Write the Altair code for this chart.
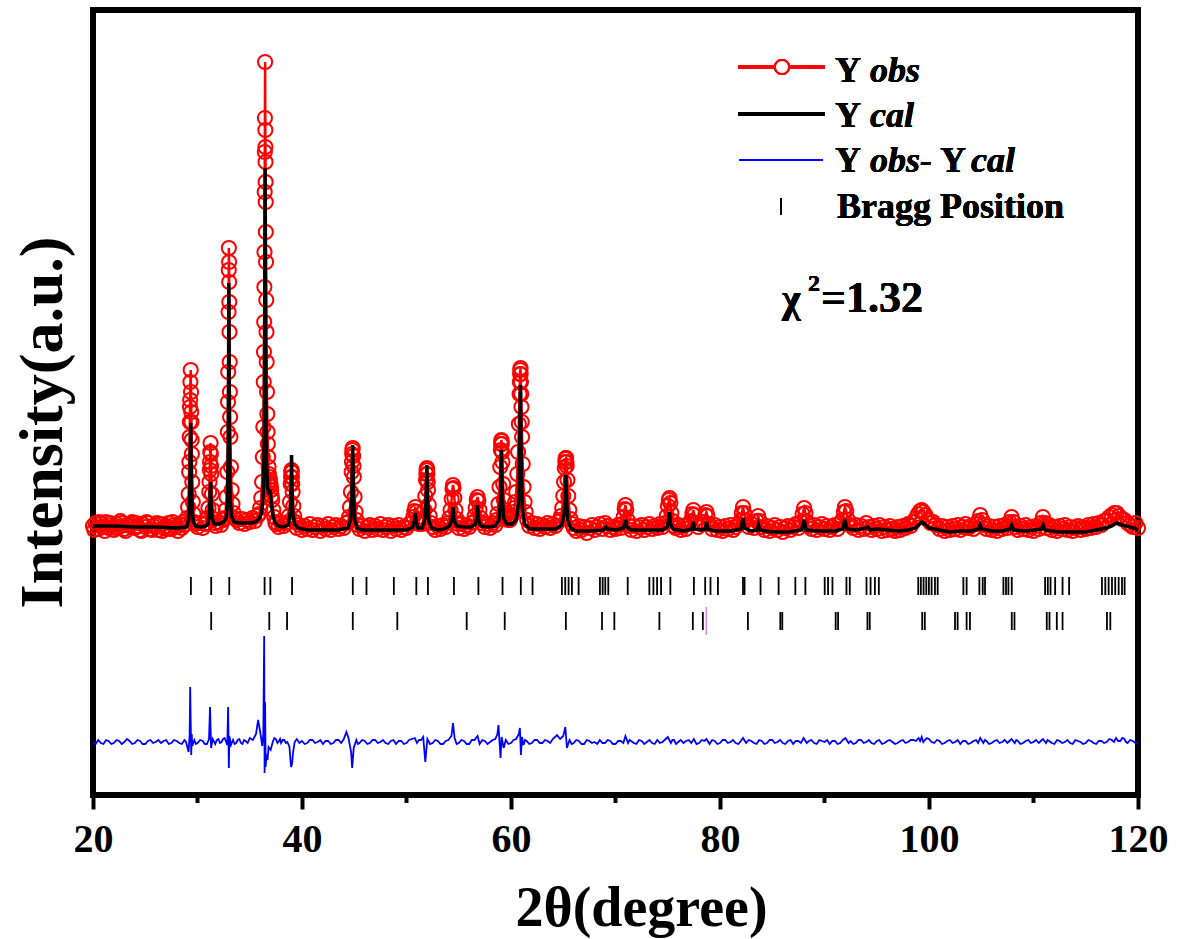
import altair as alt
import pandas as pd

# ---------------- data ----------------
# observed pattern: (2theta, intensity)
obs = [
(20.00,6),(20.25,9),(20.50,3),(20.75,8),(21.00,5),(21.25,10),(21.50,4),(21.75,7),(22.00,2),(22.25,8),(22.50,5),(22.75,9),
(23.00,3),(23.25,7),(23.50,6),(23.75,10),(24.00,4),(24.25,6),(24.50,2),(24.75,8),(25.00,5),(25.25,9),(25.50,3),(25.75,6),
(26.00,7),(26.25,2),(26.50,8),(26.75,4),(27.00,6),(27.25,9),(27.50,3),(27.75,7),(28.00,5),(28.25,8),(28.50,4),(28.75,7),
(28.90,8),(29.00,14),(29.10,25),(29.15,38),(29.20,60),(29.25,95),(29.28,125),(29.32,150),(29.35,162),(29.38,140),(29.42,110),
(29.46,78),(29.50,50),(29.55,30),(29.62,18),(29.70,10),(29.80,8),
(30.00,5),(30.25,9),(30.50,4),(30.75,8),
(30.85,9),(30.95,14),(31.05,24),(31.12,40),(31.18,62),(31.22,80),(31.25,89),(31.28,78),(31.32,58),(31.38,38),(31.45,22),
(31.55,13),(31.65,9),
(31.75,6),(32.00,10),(32.25,7),(32.50,12),
(32.60,14),(32.70,22),(32.78,35),(32.85,60),(32.90,100),(32.94,160),(32.97,220),(33.00,284),(33.03,250),(33.06,200),
(33.10,140),(33.15,95),(33.20,65),(33.27,42),(33.35,28),(33.45,19),(33.55,14),
(33.75,12),(34.00,9),(34.25,13),(34.50,8),(34.75,12),(35.00,10),(35.25,14),(35.50,11),(35.75,16),
(35.90,18),(36.00,24),(36.10,34),(36.18,50),(36.25,75),(36.30,105),(36.34,150),(36.38,210),(36.41,280),(36.43,340),
(36.45,414),(36.47,470),(36.49,402),(36.51,370),(36.53,330),(36.56,270),(36.60,200),(36.65,140),(36.70,100),(36.76,75),
(36.83,58),(36.90,50),(36.97,48),(37.05,42),(37.15,32),(37.25,22),(37.35,15),(37.45,10),
(37.50,8),(37.75,5),(38.00,9),(38.25,6),(38.50,9),
(38.65,10),(38.75,16),(38.85,30),(38.92,48),(38.97,60),(39.00,62),(39.04,55),(39.10,40),(39.17,26),(39.25,16),(39.35,10),
(39.50,4),(39.75,7),(40.00,2),(40.25,6),(40.50,3),(40.75,8),(41.00,2),(41.25,5),(41.50,7),(41.75,1),(42.00,6),(42.25,3),
(42.50,8),(42.75,2),(43.00,5),(43.25,7),(43.50,3),(43.75,6),(44.00,4),(44.25,9),
(44.40,10),(44.50,15),(44.60,25),(44.68,40),(44.75,60),(44.80,78),(44.85,84),(44.90,76),(44.96,55),(45.03,35),(45.12,20),
(45.22,12),(45.32,7),
(45.50,3),(45.75,6),(46.00,1),(46.25,5),(46.50,7),(46.75,2),(47.00,6),(47.25,3),(47.50,8),(47.75,2),(48.00,5),(48.25,7),
(48.50,1),(48.75,6),(49.00,3),(49.25,7),(49.50,2),(49.75,5),(50.00,4),(50.25,8),
(50.50,9),(50.65,15),(50.75,21),(50.85,25),(50.95,20),(51.05,12),(51.20,8),
(51.50,8),(51.62,13),(51.72,22),(51.80,36),(51.87,52),(51.92,62),(51.96,64),(52.00,58),(52.06,42),(52.13,27),(52.22,16),
(52.33,9),
(52.50,5),(52.75,2),(53.00,6),(53.25,3),(53.50,7),(53.75,5),
(53.95,9),(54.10,14),(54.22,22),(54.32,33),(54.40,43),(54.45,47),(54.50,44),(54.58,34),(54.68,22),(54.80,13),(54.92,8),
(55.00,4),(55.25,8),(55.50,3),(55.75,7),(56.00,5),(56.25,9),
(56.40,10),(56.52,16),(56.62,24),(56.72,32),(56.80,35),(56.88,31),(56.98,22),(57.10,14),(57.22,9),
(57.50,5),(57.75,8),(58.00,4),(58.25,9),(58.50,7),
(58.60,12),(58.70,18),(58.80,28),(58.90,45),(58.97,65),(59.03,82),(59.08,92),(59.12,88),(59.18,70),(59.25,48),(59.32,32),
(59.40,22),(59.50,16),(59.60,13),(59.70,12),(59.80,14),
(59.90,12),(60.00,15),(60.10,17),(60.20,20),(60.30,24),(60.40,30),(60.50,40),(60.60,58),(60.68,80),(60.75,108),(60.82,138),
(60.87,158),(60.91,164),(60.95,150),(61.00,125),(61.06,95),(61.12,68),(61.20,45),(61.30,30),(61.40,20),(61.55,12),
(61.75,6),(62.00,9),(62.25,4),(62.50,8),(62.75,3),(63.00,7),(63.25,5),(63.50,9),(63.75,4),(64.00,8),(64.25,6),(64.50,10),
(64.65,12),(64.78,16),(64.90,24),(65.00,36),(65.08,50),(65.15,64),(65.22,73),(65.27,74),(65.33,66),(65.40,52),(65.48,36),
(65.58,22),(65.70,13),(65.85,8),
(66.00,4),(66.25,1),(66.50,6),(66.75,2),(67.00,5),(67.25,-1),(67.50,4),(67.75,7),(68.00,2),(68.25,5),(68.50,8),(68.75,3),
(69.00,9),(69.25,6),(69.50,2),(69.75,5),(70.00,3),(70.25,7),(70.50,4),
(70.65,8),(70.78,15),(70.88,23),(70.95,27),(71.03,22),(71.15,12),(71.30,6),
(71.50,2),(71.75,6),(72.00,1),(72.25,5),(72.50,7),(72.75,2),(73.00,5),(73.25,8),(73.50,3),(73.75,6),(74.00,4),(74.25,8),
(74.50,5),
(74.75,9),(74.90,16),(75.02,26),(75.10,32),(75.17,34),(75.25,29),(75.35,19),(75.48,11),(75.62,6),
(75.75,4),(76.00,7),(76.25,2),(76.50,6),(76.75,3),(77.00,8),
(77.20,11),(77.35,18),(77.45,22),(77.55,17),(77.70,9),
(77.90,5),(78.15,8),
(78.45,10),(78.60,17),(78.70,20),(78.80,16),(78.95,8),
(79.25,3),(79.50,7),(79.75,2),(80.00,5),(80.25,1),(80.50,6),(80.75,3),(81.00,7),(81.25,2),(81.50,5),(81.75,8),
(81.95,11),(82.08,19),(82.20,25),(82.32,19),(82.45,11),
(82.75,5),(83.00,8),(83.25,4),
(83.50,11),(83.65,16),(83.80,11),
(84.00,5),(84.25,2),(84.50,6),(84.75,1),(85.00,4),(85.25,7),(85.50,2),(85.75,5),(86.00,0),(86.25,4),(86.50,6),(86.75,2),
(87.00,5),(87.25,8),(87.50,4),
(87.75,10),(87.90,18),(88.05,24),(88.18,19),(88.35,10),
(88.50,6),(88.75,3),(89.00,7),(89.25,2),(89.50,5),(89.75,8),(90.00,3),(90.25,6),(90.50,2),(90.75,5),(91.00,7),(91.25,3),
(91.50,9),
(91.70,12),(91.85,20),(91.95,25),(92.08,21),(92.25,12),(92.45,7),
(92.75,4),(93.00,7),(93.25,2),(93.50,6),(93.75,3),(94.00,9),(94.25,5),(94.50,2),(94.75,6),(95.00,3),(95.25,7),(95.50,1),
(95.75,5),(96.00,2),(96.25,6),(96.50,3),(96.75,1),(97.00,5),(97.25,2),(97.50,6),(97.75,4),(98.00,8),(98.25,6),
(98.50,10),(98.75,14),(98.95,18),(99.15,21),(99.30,22),(99.45,20),(99.65,17),(99.90,12),(100.15,9),(100.40,10),(100.65,7),
(101.00,3),(101.25,6),(101.50,1),(101.75,5),(102.00,2),(102.25,6),(102.50,3),(102.75,7),(103.00,2),(103.25,5),(103.50,8),
(103.75,4),(104.00,6),(104.25,3),(104.50,8),
(104.70,11),(104.90,17),(105.10,12),
(105.25,7),(105.50,3),(105.75,6),(106.00,2),(106.25,5),(106.50,1),(106.75,6),(107.00,3),(107.25,7),(107.50,4),
(107.70,10),(107.90,15),(108.10,10),
(108.25,5),(108.50,2),(108.75,6),(109.00,3),(109.25,7),(109.50,2),(109.75,5),(110.00,1),(110.25,6),(110.50,3),
(110.70,9),(110.90,15),(111.10,9),
(111.25,4),(111.50,7),(111.75,2),(112.00,5),(112.25,1),(112.50,6),(112.75,3),(113.00,7),(113.25,2),(113.50,5),(113.75,1),
(114.00,4),(114.25,6),(114.50,2),(114.75,5),(115.00,3),(115.25,7),(115.50,4),(115.75,8),(116.00,5),(116.25,9),(116.50,7),
(116.75,11),
(117.00,12),(117.25,15),(117.50,17),(117.75,19),(117.95,19),(118.20,16),(118.45,13),(118.70,12),(119.00,9),
(119.25,7),(119.50,5),(119.75,9),(120.00,4),
]
# extra observed points read inside the dense band and the large peak columns
obs_extra = [
(20.12,2),(20.62,10),(21.12,1),(21.62,9),(22.12,4),(22.62,11),(23.12,1),(23.62,8),(24.12,9),(24.62,1),(25.12,10),(25.62,2),
(26.12,9),(26.62,1),(27.12,3),(27.62,10),(28.12,1),(28.62,10),
(29.22,70),(29.30,132),(29.40,120),(29.44,92),(29.27,110),
(31.20,70),(31.30,66),(31.15,50),
(32.92,130),(32.99,262),(33.02,270),(33.08,170),(33.12,115),(33.04,230),
(36.36,180),(36.40,245),(36.44,380),(36.50,385),(36.52,350),(36.54,300),(36.58,232),(36.62,170),(36.68,118),(36.73,88),
(36.80,65),(36.87,55),(36.94,52),(37.00,46),(37.10,36),
(38.95,55),(39.02,60),(39.07,48),
(44.78,70),(44.82,82),(44.93,66),
(51.90,58),(51.98,62),(52.03,50),
(59.05,88),(59.10,91),(59.15,80),
(60.85,150),(60.89,162),(60.93,158),(60.98,138),(61.03,110),
(65.20,70),(65.25,74),(65.30,70),
]

# calculated pattern: (2theta, intensity)
calc = [
(20.0,6),(22.0,6),(24.0,5),(26.0,5),(28.0,4),(28.9,5),
(29.00,6),(29.15,12),(29.25,30),(29.30,65),(29.35,109),(29.40,60),(29.47,25),(29.60,10),(29.80,6),
(30.30,5),(30.80,6),
(31.00,8),(31.15,18),(31.20,32),(31.25,50),(31.30,30),(31.40,14),(31.60,8),
(32.00,8),(32.50,10),(32.75,14),
(32.88,30),(32.95,90),(33.00,249),(33.05,95),(33.12,35),(33.25,16),(33.50,10),
(34.00,9),(34.50,9),(35.00,9),(35.50,10),(35.90,13),(36.15,20),(36.30,40),(36.40,100),
(36.47,364),(36.53,150),(36.60,70),(36.70,45),(36.85,38),(36.95,42),(37.05,30),(37.20,17),(37.40,10),(37.70,6),
(38.20,5),(38.70,7),(38.88,20),(38.95,40),
(39.00,77),(39.05,40),(39.12,18),(39.30,8),(39.60,4),
(40.5,2),(42.0,2),(43.5,2),(44.4,4),(44.65,12),(44.77,35),
(44.85,87),(44.93,35),(45.05,12),(45.30,4),(45.70,2),
(47.0,2),(48.5,2),(50.0,2),(50.6,5),(50.78,12),
(50.85,19),(50.92,10),(51.10,4),(51.50,4),(51.75,12),(51.87,30),
(51.95,67),(52.02,30),(52.12,12),(52.40,4),
(53.00,2),(53.60,3),(54.10,6),(54.35,12),
(54.45,25),(54.55,12),(54.80,6),(55.50,5),(56.20,5),(56.60,8),(56.72,14),
(56.80,27),(56.88,13),(57.10,6),(57.80,5),(58.50,6),(58.85,12),(59.00,30),
(59.08,82),(59.16,35),(59.30,14),(59.60,8),(60.10,8),(60.50,12),(60.72,30),(60.82,70),
(60.90,147),(60.98,70),(61.08,25),(61.30,8),(61.80,3),
(63.0,3),(64.3,3),(64.85,7),(65.08,18),(65.18,32),
(65.25,57),(65.33,28),(65.45,12),(65.70,4),(66.20,1),
(67.5,1),(68.8,2),(69.10,5),(69.25,3),(70.00,2),(70.75,4),(70.90,9),
(70.98,12),(71.08,5),(71.50,2),
(72.5,2),(73.5,2),(74.5,2),(74.95,5),(75.08,12),
(75.17,20),(75.26,8),(75.50,3),(76.5,1),(77.30,3),(77.45,10),(77.58,3),(78.20,2),(78.60,3),(78.72,10),(78.85,3),(79.5,1),
(81.0,1),(82.00,3),(82.20,14),(82.35,4),(83.00,1),(83.55,2),(83.68,7),(83.80,2),
(85.0,0),(86.5,0),(87.8,2),(88.05,12),(88.25,2),(89.5,1),(91.0,1),(91.75,3),(91.95,12),(92.15,3),
(93.0,2),(94.00,4),(94.15,5),(94.4,2),(95.0,3),(96.0,2),(97.0,1),(98.0,2),(98.7,4),(99.0,7),(99.3,10),(99.6,8),(100.0,4),
(100.5,3),(101.0,2),
(102.0,0),(103.0,1),(104.0,1),(104.75,3),(104.90,7),(105.05,3),(106.0,1),(107.0,1),(107.75,3),(107.92,7),(108.10,2),
(109.5,1),(110.75,3),(110.92,7),(111.10,2),(112.5,0),(114.0,0),(115.0,0),(116.0,2),(117.0,4),(117.5,6),(117.95,9),
(118.5,7),(119.2,5),(119.6,4),(120.0,2),
]

# difference Yobs - Ycal: (2theta, value)
diff = [
(20.0,0),(20.25,-2),(20.5,2),(20.75,-1),(21.0,-2),(21.25,2),(21.5,1),(21.75,-2),(22.0,-1),(22.25,2),(22.5,1),(22.75,-2),
(23.0,0),(23.25,3),(23.5,1),(23.75,-2),(24.0,-1),(24.25,2),(24.5,1),(24.75,-2),(25.0,-2),(25.25,1),(25.5,2),(25.75,-1),
(26.0,0),(26.25,2),(26.5,-1),(26.75,1),(27.0,2),(27.25,-2),(27.5,-1),(27.75,2),(28.0,1),(28.25,-1),(28.5,-2),(28.75,2),
(28.9,0),(29.15,-10),(29.25,8),(29.3,55),(29.35,20),(29.4,-13),(29.45,8),
(29.5,-4),(29.7,2),(29.85,-2),(30.0,-1),(30.25,2),(30.5,1),(30.7,-2),(30.9,-2),(31.1,3),(31.2,35),(31.3,-6),(31.45,3),
(31.7,-2),(31.85,2),(32.0,3),(32.15,-1),(32.3,0),(32.45,3),
(32.6,4),(32.85,-3),(32.93,35),(33.0,-26),(33.05,6),(33.2,-3),(33.4,2),(33.55,-2),(33.7,-1),(33.85,2),(34.0,3),(34.15,-1),
(34.3,-2),(34.45,2),(34.6,1),(34.8,-1),(35.0,4),
(35.3,2),(35.6,8),(35.8,22),(36.0,10),(36.2,-4),(36.3,8),(36.38,106),(36.42,-31),(36.47,40),(36.52,-25),(36.6,-12),
(36.7,-18),(36.8,-5),(37.0,-8),(37.2,0),(37.35,4),(37.5,3),(37.65,-1),(37.8,1),(37.9,3),(38.0,-1),(38.15,2),(38.3,2),
(38.45,-1),(38.6,0),(38.8,-5),(38.95,-25),(39.05,-22),
(39.15,-10),(39.3,0),(39.5,3),(39.75,-1),(40.0,1),(40.25,-2),(40.5,-1),(40.75,2),(41.0,2),(41.25,-1),(41.5,0),(41.75,2),
(42.0,-2),(42.25,1),(42.5,1),(42.75,-2),(43.0,-1),(43.25,2),(43.5,2),(43.75,-1),(44.0,3),
(44.25,10),(44.45,4),(44.7,-10),(44.8,-26),(44.95,-6),(45.2,2),(45.35,-2),(45.5,-1),(45.75,2),(46.0,1),(46.25,-2),
(46.5,-1),(46.75,2),(47.0,2),(47.25,-1),(47.5,0),(47.75,2),(48.0,-1),(48.25,-2),
(48.5,1),(48.75,2),(49.0,-2),(49.25,1),(49.5,1),(49.75,-2),(50.0,-1),(50.25,2),(50.5,3),(50.8,4),(51.0,-1),(51.2,2),
(51.4,2),(51.6,5),(51.8,-20),(51.9,-8),(52.0,3),(52.25,-2),
(52.5,-1),(52.75,2),(53.0,1),(53.25,-2),(53.5,-2),(53.75,1),(54.0,2),(54.3,6),(54.45,19),(54.6,4),(54.8,-2),(55.0,-1),
(55.25,2),(55.5,1),(55.75,-2),(56.0,-2),(56.25,2),(56.5,2),(56.8,6),
(57.0,-2),(57.25,2),(57.5,1),(57.75,-2),(58.0,0),(58.25,2),(58.5,3),(58.7,8),(58.8,17),(58.95,-8),(59.0,-16),(59.1,5),
(59.3,-6),(59.5,2),(59.75,-2),(60.0,-1),(60.25,2),
(60.5,3),(60.75,8),(60.85,14),(60.95,-13),(61.05,5),(61.2,-3),(61.35,2),(61.5,1),(61.75,-2),(62.0,-1),(62.25,2),(62.5,2),
(62.75,-1),(63.0,-1),(63.25,2),(63.5,1),(63.75,-1),(64.0,3),
(64.4,7),(64.7,3),(65.0,6),(65.2,15),(65.35,-6),(65.6,2),(65.8,-2),(66.0,-1),(66.25,2),(66.5,1),(66.75,-2),(67.0,-2),
(67.25,2),(67.5,1),(67.75,-1),(68.0,0),(68.25,-2),(68.5,2),(68.75,-1),
(69.0,-1),(69.25,2),(69.5,1),(69.75,-2),(70.0,-2),(70.25,1),(70.5,1),(70.75,-1),(70.95,6),(71.2,-1),(71.35,2),(71.5,1),
(71.75,-1),(72.0,-2),(72.25,2),(72.5,1),(72.75,-2),(73.0,0),(73.25,2),(73.5,-1),(73.75,-2),(74.0,2),(74.25,-1),
(74.5,0),(75.0,5),(75.3,-1),(75.45,2),(75.6,2),(75.8,-2),(76.0,0),(76.25,2),(76.5,-1),(76.75,1),(77.0,2),(77.25,-1),
(77.5,3),(77.75,-2),(78.0,-1),(78.25,2),(78.5,1),(78.7,3),(79.0,-2),(79.25,2),
(79.5,1),(79.75,-2),(80.0,-1),(80.25,2),(80.5,2),(80.75,-1),(81.0,0),(81.25,2),(81.5,-1),(81.75,-2),(82.0,1),(82.2,4),
(82.5,-1),(82.75,2),(83.0,1),(83.25,-1),(83.5,-2),(83.75,2),(84.0,1),(84.25,-2),(84.5,-1),(84.75,2),
(85.0,2),(85.25,-1),(85.5,0),(85.75,2),(86.0,-1),(86.25,-2),(86.5,1),(86.75,2),(87.0,-2),(87.25,1),(87.5,1),(87.75,-1),
(88.0,4),(88.3,-1),(88.5,1),(88.75,2),(89.0,-1),(89.25,-2),(89.5,2),(89.75,1),(90.0,0),(90.25,2),
(90.5,-2),(90.75,1),(91.0,1),(91.25,-2),(91.5,-1),(91.75,2),(92.0,4),(92.3,-1),(92.5,1),(92.75,-2),(93.0,-1),(93.25,2),
(93.5,2),(93.75,-1),(94.0,0),(94.25,2),(94.5,-1),(94.75,-2),(95.0,1),(95.25,2),(95.5,-2),(95.75,-1),
(96.0,1),(96.25,2),(96.5,0),(96.75,-2),(97.0,-1),(97.25,1),(97.5,2),(97.75,-1),(98.0,0),(98.25,2),(98.5,2),(98.75,1),
(99.0,4),(99.15,1),(99.3,5),(99.45,0),(99.6,2),(99.8,4),(100.0,3),(100.25,0),(100.5,-1),(100.75,2),(101.0,1),
(101.25,-2),(101.5,-1),(101.75,1),(102.0,2),(102.25,-1),(102.5,0),(102.75,2),(103.0,-2),(103.25,1),(103.5,1),(103.75,-2),
(104.0,-1),(104.25,1),(104.5,2),(104.7,-1),(104.9,4),(105.2,-1),(105.35,2),(105.5,1),(105.75,-2),(106.0,-1),(106.25,1),
(106.5,2),(106.75,-1),(107.0,0),(107.25,2),(107.5,-1),(107.7,1),(107.9,3),(108.2,-1),(108.35,2),(108.5,1),(108.75,-2),
(109.0,-1),(109.25,1),(109.5,2),(109.75,-1),(110.0,0),(110.25,2),(110.5,-1),(110.7,1),(110.9,3),
(111.2,-1),(111.35,2),(111.5,1),(111.75,-1),(112.0,-2),(112.25,2),(112.5,1),(112.75,-1),(113.0,0),(113.25,2),(113.5,-1),
(113.75,-2),(114.0,2),(114.25,1),(114.5,0),(114.75,-2),(115.0,-1),(115.25,2),(115.5,1),(115.75,-1),(116.0,-2),(116.25,1),
(116.5,1),(116.75,-1),(117.0,0),(117.25,3),(117.5,2),(117.7,0),(117.9,4),(118.1,1),(118.3,1),(118.5,4),(118.7,3),
(118.85,0),(119.0,-1),(119.25,2),(119.5,1),(119.75,-1),(120.0,0),
]

# Bragg reflection positions (two phases)
bragg_phase1 = [
29.37,31.31,33.04,36.42,36.97,39.05,44.86,46.17,48.79,50.94,52.05,54.54,56.88,59.19,60.94,62.06,64.87,65.19,65.51,
65.83,66.47,68.51,68.77,69.02,69.31,71.17,73.24,73.63,73.98,74.36,75.25,77.5,78.58,79.09,79.8,82.2,82.35,83.88,85.61,
87.21,88.17,90.02,90.34,90.76,92.1,92.42,94.02,94.41,94.82,95.2,98.97,99.22,99.48,99.74,99.99,100.25,100.57,100.83,
103.29,103.6,104.82,105.14,105.36,107.12,107.37,107.6,107.92,111.11,111.37,111.63,112.07,112.78,113.41,116.55,116.87,
117.19,117.51,117.82,118.15,118.47,118.72,
]
bragg_phase2 = [
31.31,36.87,38.57,44.86,49.12,55.76,59.4,65.25,68.71,69.89,74.2,77.4,78.36,82.67,85.77,85.96,91.07,91.3,94.11,94.33,
99.35,99.6,102.49,102.74,103.6,103.92,107.92,108.18,111.27,111.53,112.23,112.78,117.03,117.35,
]
stray_line = [78.68]

x_major = [20, 40, 60, 80, 100, 120]
x_minor = [30, 50, 70, 90, 110]

# ---------------- layout / style ----------------
FONT = "Liberation Serif"
RED = "#ff0000"
BLUE = "#0000ff"
W, H = 1045, 785
DIFF_OFFSET = -210
ROW1 = (-45, -63)
ROW2 = (-80, -98)

obs_df = pd.DataFrame(obs, columns=["deg", "I"]).sort_values("deg")
pts_df = pd.DataFrame(obs + obs_extra, columns=["deg", "I"]).sort_values("deg")
calc_df = pd.DataFrame(calc, columns=["deg", "I"])
diff_df = pd.DataFrame(diff, columns=["deg", "v"])
b1_df = pd.DataFrame({"deg": bragg_phase1})
b2_df = pd.DataFrame({"deg": bragg_phase2})
stray_df = pd.DataFrame({"deg": stray_line})
minor_df = pd.DataFrame({"deg": x_minor})

xscale = alt.Scale(domain=[20, 120], nice=False, zero=False)
yscale = alt.Scale(domain=[-263, 522], nice=False, zero=False)

xaxis = alt.Axis(
    values=x_major, format="d", title="2θ(degree)",
    labelFont=FONT, labelFontSize=40, labelFontWeight="bold", labelColor="black",
    labelPadding=10, labelFlush=False, labelOverlap=False,
    tickSize=14, tickWidth=4, tickColor="black", domain=False, grid=False,
    titleFont=FONT, titleFontSize=56, titleFontWeight="bold", titleColor="black",
    titleX=548, titleY=130, titleBaseline="alphabetic", titleAlign="center",
)
yaxis = alt.Axis(
    title="Intensity(a.u.)", labels=False, ticks=False, domain=False, grid=False,
    titleFont=FONT, titleFontSize=62, titleFontWeight="bold", titleColor="black",
    titleAngle=270, titleX=-51, titleY=412, titleAlign="center", titleBaseline="middle",
)

X = alt.X("deg:Q", scale=xscale, axis=xaxis)
Y = alt.Y("I:Q", scale=yscale, axis=yaxis)

obs_line = alt.Chart(obs_df).mark_line(color=RED, strokeWidth=2.5).encode(x=X, y=Y)
obs_pts = alt.Chart(pts_df).mark_point(
    shape="circle", size=200, filled=False, stroke=RED, strokeWidth=2, opacity=1
).encode(x=X, y=Y)
calc_line = alt.Chart(calc_df).mark_line(color="black", strokeWidth=3.5).encode(x=X, y=Y)
diff_line = alt.Chart(diff_df).transform_calculate(I=f"datum.v + ({DIFF_OFFSET})").mark_line(
    color=BLUE, strokeWidth=1.8).encode(x=X, y=Y)

def tick_rows(df, rng, color="black", width=1.8):
    return alt.Chart(df).transform_calculate(I=str(rng[0]), I2=str(rng[1])).mark_rule(
        color=color, strokeWidth=width).encode(x=X, y=Y, y2="I2:Q")

b1 = tick_rows(b1_df, ROW1)
b2 = tick_rows(b2_df, ROW2)
stray = tick_rows(stray_df, (-75, -103), color="#cc55cc", width=1)

minor = alt.Chart(minor_df).mark_rule(color="black", strokeWidth=4).encode(
    x=X, y=alt.value(H), y2=alt.value(H + 8))

# legend & annotation (pixel positions inside the plot area)
def seg(x1, x2, y, color, width):
    return alt.Chart(minor_df).mark_rule(color=color, strokeWidth=width).encode(
        x=alt.value(x1), x2=alt.value(x2), y=alt.value(y))

def vseg(x, y1, y2, color, width):
    return alt.Chart(minor_df).mark_rule(color=color, strokeWidth=width).encode(
        x=alt.value(x), y=alt.value(y1), y2=alt.value(y2))

def txt(s, x, y, size=36, style="normal"):
    return alt.Chart(minor_df).mark_text(
        text=s, font=FONT, fontSize=size, fontWeight="bold", fontStyle=style,
        align="left", baseline="alphabetic", color="black"
    ).encode(x=alt.value(x), y=alt.value(y))

leg_circle = alt.Chart(minor_df).mark_point(
    shape="circle", size=200, filled=True, fill="white", fillOpacity=1,
    stroke=RED, strokeWidth=2, opacity=1
).encode(x=alt.value(689), y=alt.value(57))

legend = [
    seg(645, 732, 57, RED, 3), leg_circle, txt("Y", 742, 72), txt("obs", 777, 72, style="italic"),
    seg(645, 732, 104, "black", 3.5), txt("Y", 742, 117), txt("cal", 777, 117, style="italic"),
    seg(646, 730, 150, BLUE, 1.5), txt("Y", 742, 162), txt("obs-", 777, 162, style="italic"),
    txt("Y", 847, 162), txt("cal", 878, 162, style="italic"),
    vseg(688, 188, 205, "black", 1.8), txt("Bragg Position", 744, 208),
    txt("χ", 689, 302, size=40), txt("2", 715, 281, size=24), txt("=1.32", 728, 302, size=44),
]

chart = alt.layer(
    obs_line, obs_pts, calc_line, diff_line, b1, b2, stray, minor, *legend
).properties(
    width=W, height=H,
    autosize=alt.AutoSizeParams(type="none"),
    padding={"left": 93, "top": 10, "right": 40, "bottom": 144},
    background="white",
).configure_view(stroke="black", strokeWidth=6, fill="white")

chart.save("out.html", embed_options={"renderer": "svg", "actions": False})
